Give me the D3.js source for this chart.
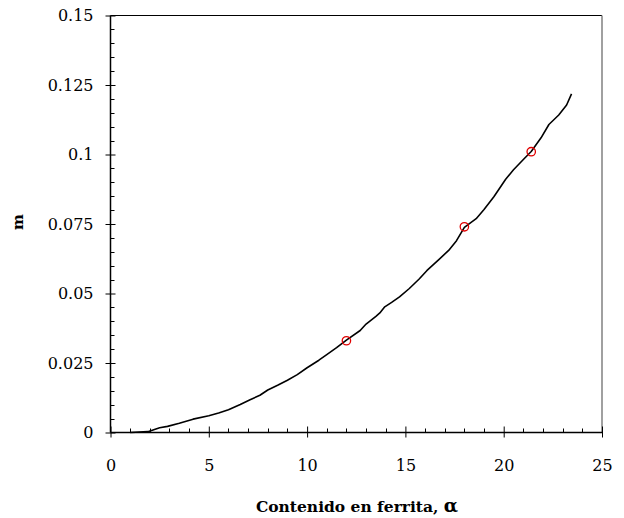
<!DOCTYPE html>
<html>
<head>
<meta charset="utf-8">
<script src="https://cdn.jsdelivr.net/npm/d3@7"></script>
<style>
  html, body { margin: 0; padding: 0; background: #fff; }
  svg { display: block; }
  text { font-family: "DejaVu Serif", serif; fill: #000; }
</style>
</head>
<body>
<svg id="chart" width="624" height="518"></svg>
<script>
// Curve: m as a function of ferrite content
const ferrita = [1.0, 1.9, 2.5, 2.9, 3.5, 4.2, 5.0, 5.5, 6.0, 6.6, 7.1, 7.6, 8.0, 8.5, 9.0, 9.5,
  10.0, 10.6, 11.0, 11.5, 12.0, 12.7, 13.0, 13.5, 13.7, 13.95, 14.3, 14.7, 15.2, 15.7, 16.1,
  16.7, 17.2, 17.6, 18.0, 18.6, 19.0, 19.5, 20.1, 20.5, 21.0, 21.4, 21.9, 22.3, 22.8, 23.2, 23.45];
const mCurve = [0.0, 0.0003, 0.0017, 0.0022, 0.0033, 0.0048, 0.0060, 0.0070, 0.0082, 0.0101,
  0.0118, 0.0134, 0.0153, 0.0170, 0.0188, 0.0208, 0.0233, 0.0260, 0.0280, 0.0305, 0.0332,
  0.0367, 0.0390, 0.0418, 0.0430, 0.0452, 0.0468, 0.0488, 0.0518, 0.0552, 0.0583, 0.0622,
  0.0655, 0.0690, 0.0738, 0.0769, 0.0802, 0.0848, 0.0911, 0.0945, 0.0982, 0.1011, 0.1060,
  0.1108, 0.1142, 0.1178, 0.1218];

// Measured points
const puntosX = [12, 18, 21.4];
const puntosM = [0.033, 0.074, 0.101];

// Axis ticks
const xTicks = [0, 5, 10, 15, 20, 25];
const yTicks = [0, 0.025, 0.05, 0.075, 0.1, 0.125, 0.15];
const yTickLabels = ["0", "0.025", "0.05", "0.075", "0.1", "0.125", "0.15"];

const svg = d3.select("#chart");
const mLeft = 110.5, mRight = 602, mTop = 15.5, mBottom = 432.5;

const x = d3.scaleLinear().domain([0, 25]).range([mLeft, mRight]);
const y = d3.scaleLinear().domain([0, 0.15]).range([mBottom, mTop]);

// Frame: top and right borders
svg.append("line").attr("x1", mLeft).attr("x2", mRight).attr("y1", mTop).attr("y2", mTop)
  .attr("stroke", "#000").attr("stroke-width", 1);
svg.append("line").attr("x1", mRight).attr("x2", mRight).attr("y1", mTop).attr("y2", mBottom)
  .attr("stroke", "#808080").attr("stroke-width", 1.5);

// Minor ticks (inside)
const xMinor = d3.range(0, 25.001, 1).filter(v => v % 5 !== 0);
const yMinor = d3.range(0, 0.1501, 0.005).filter(v => Math.abs(v / 0.025 - Math.round(v / 0.025)) > 1e-6);

svg.append("g").selectAll("line").data(xMinor).join("line")
  .attr("x1", d => Math.round(x(d)) + 0.5).attr("x2", d => Math.round(x(d)) + 0.5)
  .attr("y1", mBottom).attr("y2", mBottom - 4).attr("stroke", "#000");
svg.append("g").selectAll("line").data(yMinor).join("line")
  .attr("x1", mLeft).attr("x2", mLeft + 4)
  .attr("y1", d => Math.round(y(d)) + 0.5).attr("y2", d => Math.round(y(d)) + 0.5)
  .attr("stroke", "#000");

// Major axes
const xAxis = d3.axisBottom(x).tickValues(xTicks).tickFormat(d3.format("d"))
  .tickSize(5).tickPadding(22);
const gx = svg.append("g").attr("transform", `translate(0,${mBottom})`).call(xAxis);
gx.select(".domain").remove();
gx.selectAll(".tick line").attr("y1", -6).attr("y2", 5).attr("stroke", "#000");
gx.selectAll(".tick text").attr("font-family", "DejaVu Serif, serif").attr("font-size", 16).attr("fill", "#000");

const yAxis = d3.axisLeft(y).tickValues(yTicks)
  .tickFormat((d, i) => yTickLabels[i]).tickSize(5).tickPadding(12);
const gy = svg.append("g").attr("transform", `translate(${mLeft},0)`).call(yAxis);
gy.select(".domain").remove();
gy.selectAll(".tick line").attr("x1", 5).attr("x2", -5).attr("stroke", "#000");
gy.selectAll(".tick text").attr("font-family", "DejaVu Serif, serif").attr("font-size", 16).attr("fill", "#000");

// Axis lines
svg.append("line").attr("x1", mLeft).attr("x2", mRight).attr("y1", mBottom).attr("y2", mBottom)
  .attr("stroke", "#000").attr("stroke-width", 1.5);
svg.append("line").attr("x1", mLeft).attr("x2", mLeft).attr("y1", mTop).attr("y2", mBottom)
  .attr("stroke", "#000").attr("stroke-width", 1.5);

// Curve
const line = d3.line().x((d, i) => x(ferrita[i])).y(d => y(d));
svg.append("path").datum(mCurve)
  .attr("d", line).attr("fill", "none")
  .attr("stroke", "#000").attr("stroke-width", 1.6).attr("stroke-linejoin", "round");

// Points
svg.selectAll("circle.p").data(puntosX).join("circle")
  .attr("cx", d => x(d)).attr("cy", (d, i) => y(puntosM[i]))
  .attr("r", 4.2).attr("fill", "none").attr("stroke", "#e00000").attr("stroke-width", 1.3);

// Axis titles
const xt = svg.append("text").attr("x", 357).attr("y", 512)
  .attr("text-anchor", "middle").attr("font-size", 15.5).attr("font-weight", "bold");
xt.append("tspan").text("Contenido en ferrita, ");
xt.append("tspan").attr("font-size", 18.5).text("α");

svg.append("text").attr("transform", "translate(23,222) rotate(-90)")
  .attr("text-anchor", "middle").attr("font-size", 15).attr("font-weight", "bold")
  .text("m");
</script>
</body>
</html>
